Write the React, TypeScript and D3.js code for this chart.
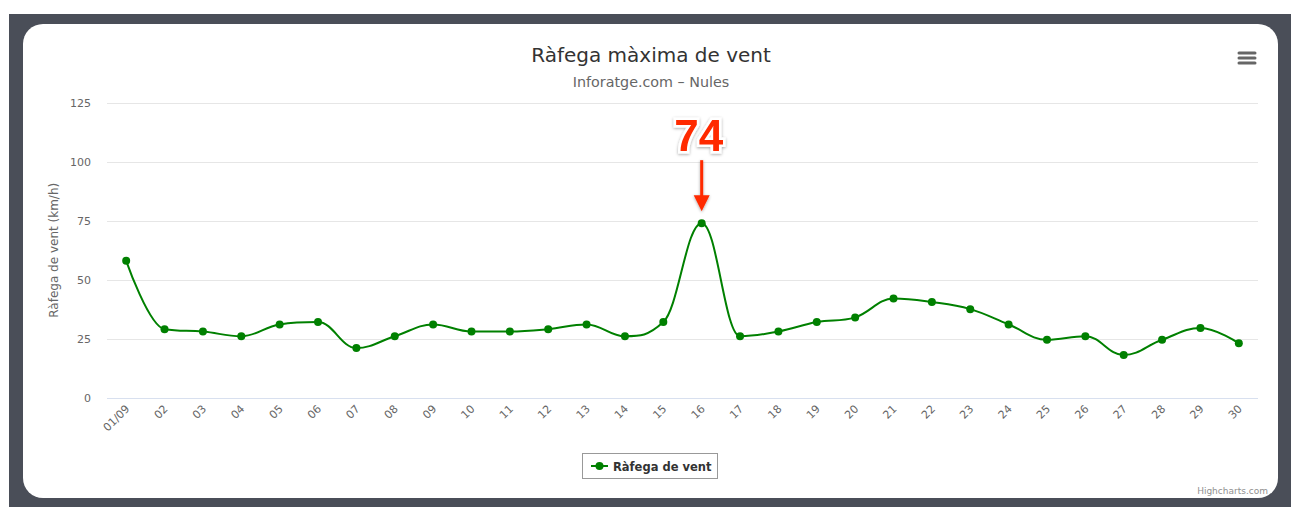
import { useEffect, useRef } from 'react'
import * as d3 from 'd3'

const days = ['01/09', '02', '03', '04', '05', '06', '07', '08', '09', '10', '11', '12', '13', '14', '15',
    '16', '17', '18', '19', '20', '21', '22', '23', '24', '25', '26', '27', '28', '29', '30']
const gust = [58, 29, 28, 26, 31, 32, 21, 26, 31, 28, 28, 29, 31, 26, 32,
    74, 26, 28, 32, 34, 42, 40.5, 37.5, 31, 24.5, 26, 18, 24.5, 29.5, 23]
const yTicks = [0, 25, 50, 75, 100, 125]
const peakLabel = '74'
const peakIndex = 15

const W = 1291
const H = 507
const FONT = '"DejaVu Sans", "Lucida Grande", sans-serif'

// highcharts-style spline path from already scaled points
function splinePath(pts: [number, number][]) {
    const p = d3.path()
    const smoothing = 1.5
    const denom = smoothing + 1
    let lastRight: [number, number] | null = null
    pts.forEach(([x, y], i) => {
        if (i === 0) {
            p.moveTo(x, y)
            lastRight = null
            return
        }
        const prev = pts[i - 1]
        const next = pts[i + 1]
        let leftX = x, leftY = y
        let right: [number, number] | null = null
        if (next) {
            leftX = (smoothing * x + prev[0]) / denom
            leftY = (smoothing * y + prev[1]) / denom
            const rightX = (smoothing * x + next[0]) / denom
            let rightY = (smoothing * y + next[1]) / denom
            const correction = ((rightY - leftY) * (rightX - x)) / (rightX - leftX) + y - rightY
            leftY += correction
            rightY += correction
            if (leftY > prev[1] && leftY > y) {
                leftY = Math.max(prev[1], y)
                rightY = 2 * y - leftY
            } else if (leftY < prev[1] && leftY < y) {
                leftY = Math.min(prev[1], y)
                rightY = 2 * y - leftY
            }
            if (rightY > next[1] && rightY > y) {
                rightY = Math.max(next[1], y)
                leftY = 2 * y - rightY
            } else if (rightY < next[1] && rightY < y) {
                rightY = Math.min(next[1], y)
                leftY = 2 * y - rightY
            }
            right = [rightX, rightY]
        }
        const c1 = lastRight || prev
        p.bezierCurveTo(c1[0], c1[1], leftX, leftY, x, y)
        lastRight = right
    })
    return p.toString()
}

export default function App() {
    const svgRef = useRef<SVGSVGElement>(null)

    useEffect(() => {
        const svg = d3.select(svgRef.current)
        svg.selectAll('*').remove()

        const left = 107, right = 1258, top = 103, bottom = 397.5

        const x = d3.scalePoint<string>().domain(days).range([left, right]).padding(0.5)
        const y = d3.scaleLinear().domain([0, 125]).range([bottom, top])

        // frame + card
        svg.append('rect').attr('x', 9).attr('y', 14).attr('width', W - 9).attr('height', H - 14)
            .attr('fill', '#4a4e58')
        svg.append('rect').attr('x', 23).attr('y', 24).attr('width', 1255).attr('height', 474)
            .attr('rx', 20).attr('fill', '#ffffff')

        // titles
        svg.append('text').attr('x', 651).attr('y', 62).attr('text-anchor', 'middle')
            .style('font-family', FONT).style('font-size', '20px').style('fill', '#333333')
            .text('Ràfega màxima de vent')
        svg.append('text').attr('x', 651).attr('y', 87).attr('text-anchor', 'middle')
            .style('font-family', FONT).style('font-size', '14.3px').style('fill', '#666666')
            .text('Inforatge.com – Nules')

        // menu icon
        const menu = svg.append('g')
        ;[53, 58, 63].forEach(yy => {
            menu.append('line').attr('x1', 1239).attr('x2', 1255).attr('y1', yy).attr('y2', yy)
                .attr('stroke', '#666666').attr('stroke-width', 3).attr('stroke-linecap', 'round')
        })

        // grid
        const g = svg.append('g')
        g.selectAll('.grid').data(yTicks.filter(t => t > 0)).enter().append('line')
            .attr('x1', left).attr('x2', right)
            .attr('y1', d => Math.round(y(d)) + 0.5).attr('y2', d => Math.round(y(d)) + 0.5)
            .attr('stroke', '#e6e6e6').attr('stroke-width', 1)
        g.append('line').attr('x1', left).attr('x2', right)
            .attr('y1', Math.round(y(0)) + 0.5).attr('y2', Math.round(y(0)) + 0.5)
            .attr('stroke', '#d8e0ef').attr('stroke-width', 1)

        // y labels
        g.selectAll('.ylab').data(yTicks).enter().append('text')
            .attr('x', 91).attr('y', d => y(d) + 4).attr('text-anchor', 'end')
            .style('font-family', FONT).style('font-size', '11px').style('fill', '#666666')
            .text(d => d)
        svg.append('text')
            .attr('transform', `translate(58, ${y(62.5)}) rotate(-90)`)
            .attr('text-anchor', 'middle')
            .style('font-family', FONT).style('font-size', '12px').style('fill', '#666666')
            .text('Ràfega de vent (km/h)')

        // x labels
        g.selectAll('.xlab').data(days).enter().append('text')
            .attr('transform', d => `translate(${(x(d) as number) + 4}, ${bottom + 12}) rotate(-45)`)
            .attr('text-anchor', 'end')
            .style('font-family', FONT).style('font-size', '11px').style('fill', '#666666')
            .text(d => d)

        // series
        const pts: [number, number][] = gust.map((v, i) => [x(days[i]) as number, y(v)])
        g.append('path').attr('d', splinePath(pts)).attr('fill', 'none')
            .attr('stroke', '#008000').attr('stroke-width', 2).attr('stroke-linejoin', 'round')
        g.selectAll('.dot').data(pts).enter().append('circle')
            .attr('cx', d => d[0]).attr('cy', d => d[1]).attr('r', 4).attr('fill', '#008000')

        // annotation
        const defs = svg.append('defs')
        const f = defs.append('filter').attr('id', 'shadow').attr('x', '-20%').attr('y', '-20%')
            .attr('width', '140%').attr('height', '140%')
        f.append('feDropShadow').attr('dx', 0).attr('dy', 1).attr('stdDeviation', 1.5)
            .attr('flood-color', '#000').attr('flood-opacity', 0.35)
        const px = pts[peakIndex][0]
        const py = pts[peakIndex][1]
        svg.append('text').attr('x', px - 3).attr('y', py - 72).attr('text-anchor', 'middle')
            .style('font-family', '"Liberation Sans", Arial, sans-serif').style('font-weight', 'bold')
            .style('font-size', '44px').style('fill', '#ff2a00')
            .style('stroke', '#ffffff').style('stroke-width', 5).style('paint-order', 'stroke')
            .attr('filter', 'url(#shadow)')
            .text(peakLabel)
        const arrow = svg.append('g').attr('filter', 'url(#shadow)')
        arrow.append('line').attr('x1', px).attr('x2', px).attr('y1', py - 63).attr('y2', py - 24)
            .attr('stroke', '#ff2a00').attr('stroke-width', 3)
        arrow.append('path')
            .attr('d', `M${px - 8},${py - 28} L${px + 8},${py - 28} L${px},${py - 12} Z`)
            .attr('fill', '#ff2a00')

        // legend
        const lg = svg.append('g')
        lg.append('rect').attr('x', 582.5).attr('y', 453.5).attr('width', 135).attr('height', 25)
            .attr('fill', '#ffffff').attr('stroke', '#999999').attr('stroke-width', 1)
        lg.append('line').attr('x1', 591).attr('x2', 608).attr('y1', 466).attr('y2', 466)
            .attr('stroke', '#008000').attr('stroke-width', 2)
        lg.append('circle').attr('cx', 599.5).attr('cy', 466).attr('r', 4).attr('fill', '#008000')
        lg.append('text').attr('x', 613).attr('y', 470.5)
            .style('font-family', FONT).style('font-size', '11.5px').style('font-weight', 'bold')
            .style('fill', '#333333').text('Ràfega de vent')

        // credits
        svg.append('text').attr('x', 1268).attr('y', 494).attr('text-anchor', 'end')
            .style('font-family', FONT).style('font-size', '9px').style('fill', '#909090')
            .text('Highcharts.com')
    }, [])

    return (
        <div style={{ position: 'absolute', left: 0, top: 0 }}>
            <svg ref={svgRef} width={W} height={H} style={{ display: 'block', background: '#ffffff' }} />
        </div>
    )
}
